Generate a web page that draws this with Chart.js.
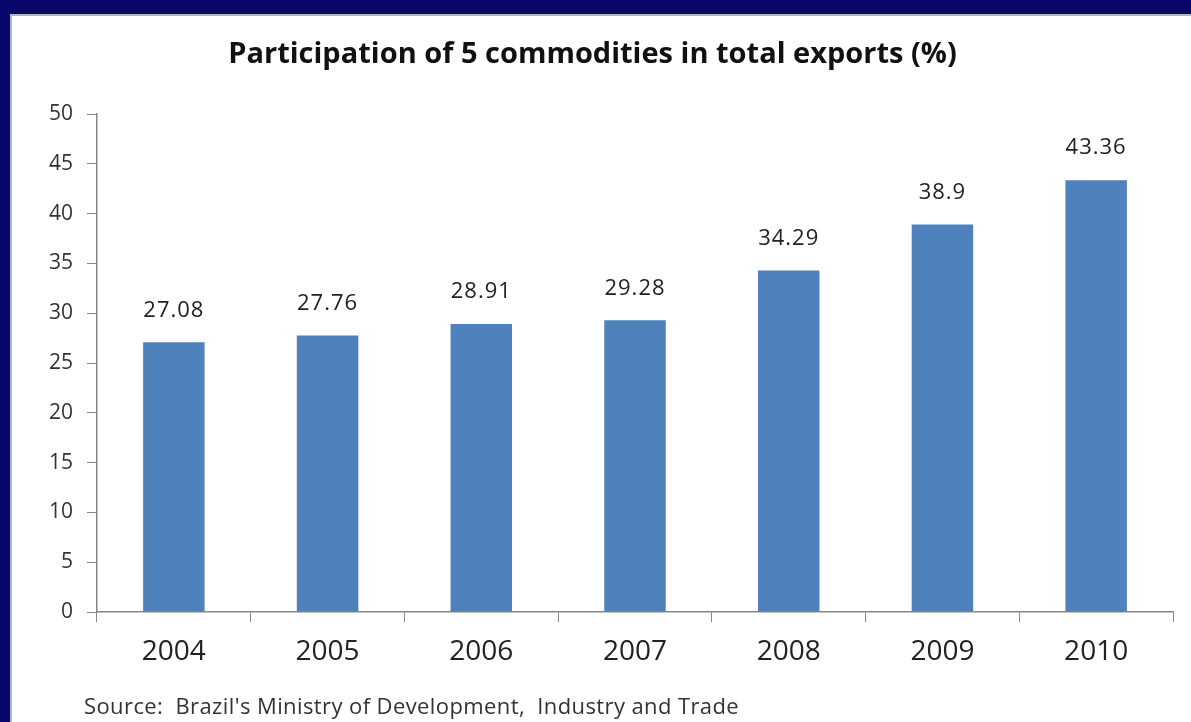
<!DOCTYPE html>
<html>
<head>
<meta charset="utf-8">
<script src="https://cdn.jsdelivr.net/npm/chart.js@4.4.1/dist/chart.umd.min.js"></script>
<style>
  html, body { margin: 0; padding: 0; }
  body { width: 1191px; height: 722px; background: #08086a; position: relative; overflow: hidden; }
  #panel {
    position: absolute; left: 10px; top: 14px; width: 1181px; height: 708px;
    background: #fff; border-left: 2px solid #b4b4c4; border-top: 2px solid #b4b4c4;
    box-sizing: border-box;
  }
  #chart-box { position: absolute; left: 0; top: 0; width: 1179px; height: 706px; }
  #source {
    position: absolute; left: 72px; top: 674px;
    font-family: "Open Sans", sans-serif; font-size: 22px; letter-spacing: 0.4px; color: #333;
    white-space: pre;
  }
</style>
</head>
<body>
<div id="panel">
  <div id="chart-box"><canvas id="exports-chart" width="1179" height="706"></canvas></div>
  <div id="source">Source:  Brazil's Ministry of Development,  Industry and Trade</div>
</div>

<script>
// Part des 5 commodities dans les exportations totales (%)
const years = ['2004', '2005', '2006', '2007', '2008', '2009', '2010'];
const shares = [27.08, 27.76, 28.91, 29.28, 34.29, 38.9, 43.36];
const yTicks = [0, 5, 10, 15, 20, 25, 30, 35, 40, 45, 50];

const axisGray = '#868686';
const textGray = '#333';

// valeur écrite au-dessus de chaque barre
const valueLabels = {
  id: 'valueLabels',
  afterDatasetsDraw(chart) {
    const ctx = chart.ctx;
    const meta = chart.getDatasetMeta(0);
    ctx.save();
    ctx.font = '22px "Open Sans", sans-serif';
    ctx.letterSpacing = '1px';
    ctx.fillStyle = '#222';
    ctx.textAlign = 'center';
    ctx.textBaseline = 'middle';
    meta.data.forEach((bar, i) => {
      ctx.fillText(String(shares[i]), bar.x, bar.y - 32);
    });
    ctx.restore();
  }
};

const ctx = document.getElementById('exports-chart').getContext('2d');
window.exportsChart = new Chart(ctx, {
  type: 'bar',
  data: {
    labels: years,
    datasets: [{
      data: shares,
      backgroundColor: '#4f81bd',
      categoryPercentage: 1,
      barPercentage: 0.4,
    }]
  },
  options: {
    responsive: false,
    animation: false,
    layout: { padding: { left: 0, right: 18, top: 0, bottom: 0 } },
    plugins: {
      legend: { display: false },
      tooltip: { enabled: false },
      title: {
        display: true,
        text: 'Participation of 5 commodities in total exports (%)',
        color: '#111',
        font: { family: '"Open Sans", sans-serif', size: 29, weight: 'bold', lineHeight: 1.2 },
        padding: { top: 21.6, bottom: 41.6 }
      }
    },
    scales: {
      x: {
        grid: { display: true, drawOnChartArea: false, offset: true, color: axisGray, tickLength: 10 },
        border: { color: axisGray, width: 1.5 },
        ticks: { color: '#222', padding: 13, font: { family: '"Open Sans", sans-serif', size: 28 } },
        afterFit(scale) { scale.height = 110; }
      },
      y: {
        min: 0,
        max: 50,
        afterBuildTicks(scale) { scale.ticks = yTicks.map(v => ({ value: v })); },
        grid: { display: true, drawOnChartArea: false, color: axisGray, tickLength: 10 },
        border: { color: axisGray, width: 1.5 },
        ticks: { color: textGray, padding: 14, font: { family: '"Open Sans", sans-serif', size: 21 } },
        afterFit(scale) { scale.width = 85; }
      }
    }
  },
  plugins: [valueLabels]
});
</script>
</body>
</html>
